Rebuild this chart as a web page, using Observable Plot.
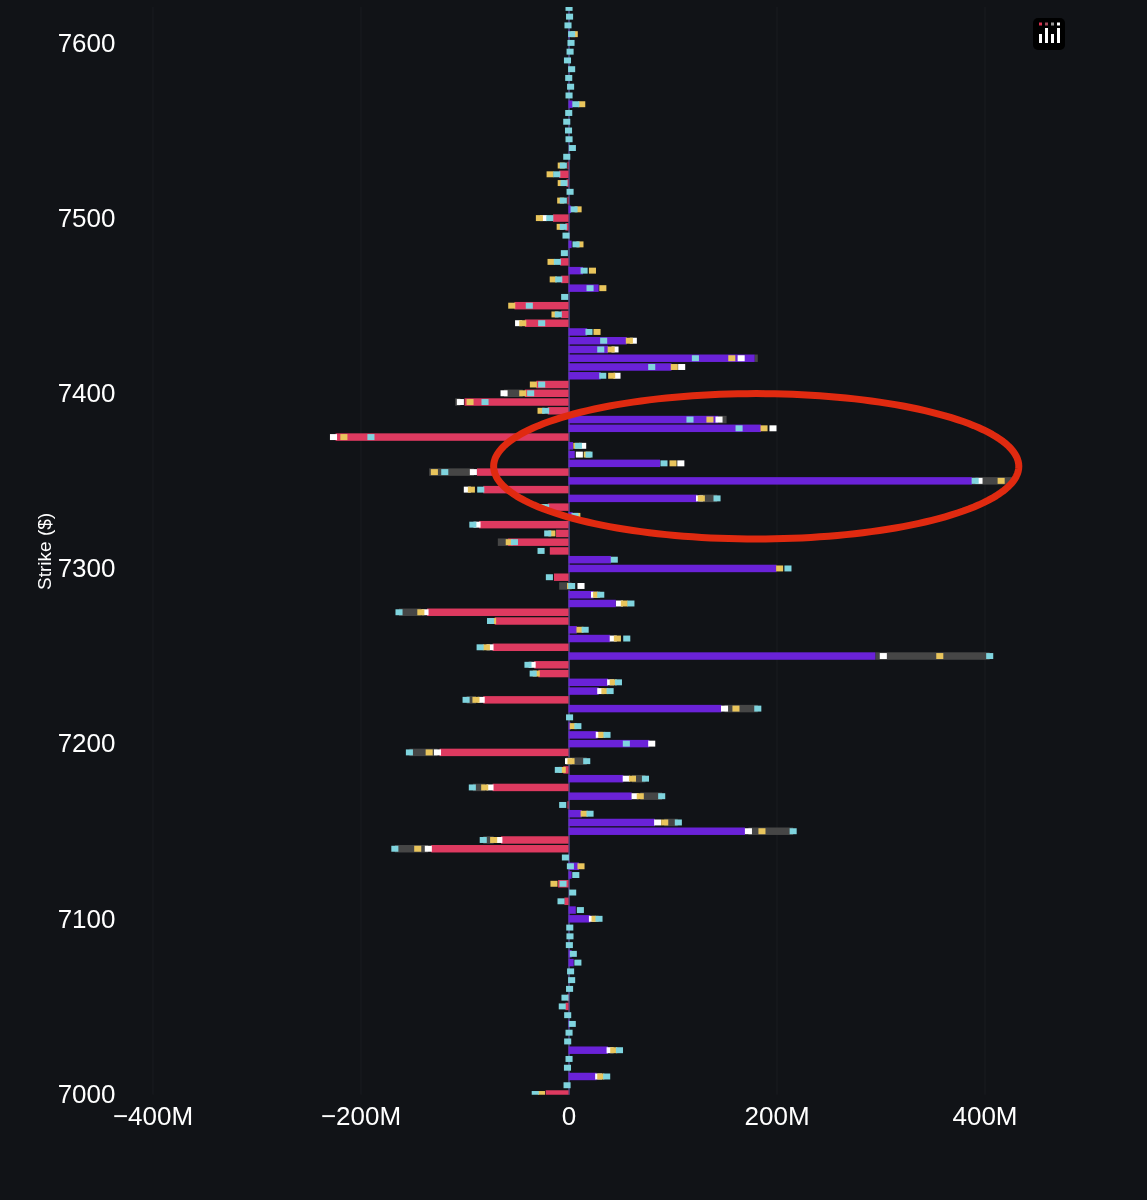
<!DOCTYPE html>
<html><head><meta charset="utf-8">
<script src="https://cdn.jsdelivr.net/npm/d3@7"></script>
<script src="https://cdn.jsdelivr.net/npm/@observablehq/plot@0.6"></script>
<style>
html,body{margin:0;padding:0;background:#111317;}
#wrap{position:relative;width:1147px;height:1200px;overflow:hidden;}
#logo{position:absolute;left:1033px;top:18px;width:32px;height:32px;filter:blur(.4px);}
svg{display:block;}
#wrap > svg:first-child{filter:blur(.45px);}
</style></head><body><div id="wrap">
<svg id="logo" viewBox="0 0 32 32"><rect width="32" height="32" rx="5" fill="#000"/>
<rect x="6" y="4.5" width="3" height="3" fill="#d8314f"/><rect x="12" y="4.5" width="3" height="3" fill="#a04858"/><rect x="18" y="4.5" width="3" height="3" fill="#999"/><rect x="24" y="4.5" width="3" height="3" fill="#fff"/>
<rect x="6" y="16" width="3" height="9" fill="#fff"/><rect x="12" y="10" width="3" height="15" fill="#fff"/><rect x="18" y="16" width="3" height="9" fill="#fff"/><rect x="24" y="10" width="3" height="15" fill="#fff"/></svg>
</div>
<script>
const n = null;
const strikes = [
7620,7615,7610,7605,7600,7595,7590,7585,7580,7575,
7570,7565,7560,7555,7550,7545,7540,7535,7530,7525,
7520,7515,7510,7505,7500,7495,7490,7485,7480,7475,
7470,7465,7460,7455,7450,7445,7440,7435,7430,7425,
7420,7415,7410,7405,7400,7395,7390,7385,7380,7375,
7370,7365,7360,7355,7350,7345,7340,7335,7330,7325,
7320,7315,7310,7305,7300,7295,7290,7285,7280,7275,
7270,7265,7260,7255,7250,7245,7240,7235,7230,7225,
7220,7215,7210,7205,7200,7195,7190,7185,7180,7175,
7170,7165,7160,7155,7150,7145,7140,7135,7130,7125,
7120,7115,7110,7105,7100,7095,7090,7085,7080,7075,
7070,7065,7060,7055,7050,7045,7040,7035,7030,7025,
7020,7015,7010,7005,7000];
const barValues = [
0,0,0,1,0,0,0,0,0,0,
0,4,0,0,0,0,0,0,-1,-9,
-2,0,-1,2.5,-15,-3,0,3,0,-8,
14,-7,29,0,-52,-7,-42,18,56,38,
179,99,31,-31,-42,-100,-20,144,185,-224,
4.4,6,88,-88,388,-82,124,-20,4,-86,
-12,-58,-18,40.9,200,-14,0,24,45.5,-136,
-71,8,40,-73,295,-33,-29,38,29,-82,
147,0,2,28,77.7,-124,0,-5,52.7,-73,
60.8,-1,12.7,83,169.7,-65,-132,0,10,3,
-10,0,-4,7,21,0,0,0,3,5,
0,0,0,-1,-3,0,1,0,0,38,
0,0,27,0,-22];
const cyanValues = [
.5,1,-.5,3,2.4,1.5,-1,3,.2,2,
.5,7,.2,-1.7,0,.5,3.7,-1.7,-5,-11.3,
-4.3,1.5,-5,5.3,-18,-5,-2.4,7.2,-4,-10.7,
15,-9.4,20.7,-3.7,-37.7,-9.8,-25.8,19.7,33.8,31,
122,80,32.9,-25.8,-36.4,-80.3,-22,116.8,164,-190,
9.5,19.7,91.8,-119,391,-84.4,142.8,-22,6.2,-92,
-20,-52,-26.4,44,211,-18.4,3,31,60,-163,
-75,16,56,-85,405,-39,-34,48,40,-98.5,
182,1,9,37,55.6,-153,17.5,-9.8,74,-92.5,
89.6,-5.6,20.7,105.6,216,-82,-167,-3,1.8,7,
-5.3,4,-7.2,11.4,29.3,1.2,1.4,.8,4.6,9,
2,3,1,-3.4,-6,-.8,3.6,.5,-.8,49,
.5,-1,36.7,-1.4,-32];
const yellowValues = [
n,n,n,5.5,n,n,n,n,n,n,
n,12.7,n,n,n,n,n,n,-7,-17.7,
-7,n,-7.5,9.2,-28,-8,n,11,n,-16.8,
23,-14.7,33,n,-54.6,-13,-44,27.4,58.5,41,
157,101.7,41.5,-33.8,-44,-94.7,-26.4,136,188,-216,
8,18,100.5,-129,416,-93.4,127.7,-24,8,n,
-16,-57,n,n,203,n,2,27,53.7,-142,
-73,11,47,-79,357,n,-31,43,35,-89,
161,n,4.5,32,n,-134,2.4,-6,61.5,-80.6,
69,n,15,92.5,186,-72,-145,n,12,n,
-14,n,n,n,25.5,n,n,n,n,n,
n,n,n,n,n,n,n,n,n,43.5,
n,n,31,n,-26];
const whiteValues = [
n,n,n,n,n,n,n,n,n,n,
n,n,n,n,n,n,n,n,n,n,
n,n,n,n,-24,n,n,n,n,n,
n,n,n,n,n,n,-48,n,62.3,44.7,
166,108.8,46.6,n,-62,-104,n,144.7,196.6,-226,
13.6,10.4,108,-91.5,394.7,-97.3,126,n,n,-88,
n,n,n,n,n,n,12,25,49,-138,
n,n,43,-75.5,302.7,-35,n,40.5,31,-84,
150,n,n,29.6,80,-126,0,n,55.5,-75.5,
64,n,n,85.7,173,-67,-134.8,n,n,n,
n,n,n,n,23,n,n,n,n,n,
n,n,n,n,n,n,n,n,n,40,
n,n,29,n,n];
const grayStrikes = [7420,7400,7395,7385,7355,7350,7340,7315,7290,7275,7250,7225,7220,7195,7190,7180,7175,7170,7155,7150,7145,7140];
const grayFrom =    [179,-44,-104,144,-91,388,126,-57,-9,-142,295,-89,150,-126,-2.4,61,-80,69,92,173,-72,-135];
const grayTo =      [182,-62,-109,152,-134,427,143,-68,3,-163,405,-98,182,-153,17.5,74,-92,90,105,216,-82,-167];
const xTicks = [-400,-200,0,200,400];
const yTicks = [7000,7100,7200,7300,7400,7500,7600];
// annotation ellipse: centre and radii in chart units
const ring = {x:180, y:7358.6, rx:252.5, ry:41.5};

const BG="#111317", PURPLE="#6a22d8", RED="#de3a60", GRAY="#464646", CYAN="#7fd4de", YELLOW="#e9c55c", WHITE="#ffffff";
const halfBar = 2.13, markH = 1.7, markW = 3.4;

const rows = strikes.map((s,i)=>({s, bar:barValues[i], cyan:cyanValues[i], yellow:yellowValues[i], white:whiteValues[i]}));
const gray = grayStrikes.map((s,i)=>({s, a:grayFrom[i], b:grayTo[i]}));
const marker = (key, fill) => Plot.rect(rows.filter(d=>d[key]!==null), {
  x1:d=>d[key]-markW, x2:d=>d[key]+markW, y1:d=>d.s-markH, y2:d=>d.s+markH, fill, clip:true});
const ringPts = d3.range(0,361,2).map(a=>({x:ring.x+ring.rx*Math.cos(a*Math.PI/180), y:ring.y+ring.ry*Math.sin(a*Math.PI/180)}));
const fmtX = d => d===0 ? "0" : (d<0?"\u2212":"")+Math.abs(d)+"M";

const chart = Plot.plot({
  width:1147, height:1200,
  marginLeft:115, marginRight:117, marginTop:7, marginBottom:105.3,
  style:{background:BG, color:"#fff", fontFamily:"'Liberation Sans', Arial, sans-serif"},
  x:{domain:[-436.1,443.75]},
  y:{domain:[6999.6,7620.5]},
  marks:[
    Plot.ruleX(xTicks,{stroke:"#1a1c20", strokeWidth:1}),
    Plot.ruleX([0],{stroke:"#4f4a86", strokeWidth:1.5}),
    Plot.rect(gray,{x1:"a",x2:"b",y1:d=>d.s-halfBar,y2:d=>d.s+halfBar,fill:GRAY,clip:true}),
    Plot.rect(rows.filter(d=>d.bar!==0),{x1:0,x2:"bar",y1:d=>d.s-halfBar,y2:d=>d.s+halfBar,fill:d=>d.bar>0?PURPLE:RED,clip:true}),
    marker("white",WHITE), marker("yellow",YELLOW), marker("cyan",CYAN),
    Plot.line(ringPts,{x:"x",y:"y",stroke:"#e02a10",strokeWidth:7}),
    Plot.axisX({ticks:xTicks,tickFormat:fmtX,tickSize:0,tickPadding:11,fontSize:26,label:null,fill:"#fff"}),
    Plot.axisY({ticks:yTicks,tickFormat:d=>String(d),tickSize:0,tickPadding:0,fontSize:26,label:null,fill:"#fff"}),
    Plot.text(["Strike ($)"],{x:-504,y:7310,rotate:-90,fontSize:19,fill:"#fff",clip:false})
  ]
});
document.getElementById("wrap").prepend(chart);
</script></body></html>
